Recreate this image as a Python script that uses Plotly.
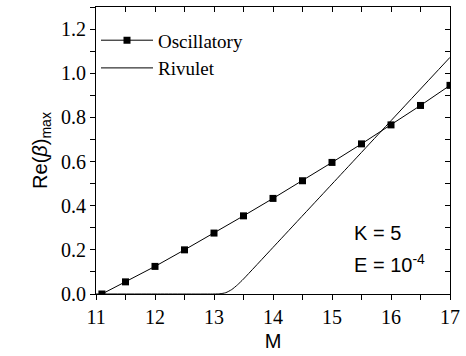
import plotly.graph_objects as go

# Data
osc_M = [11.1, 11.5, 12.0, 12.5, 13.0, 13.5, 14.0, 14.5, 15.0, 15.5, 16.0, 16.5, 17.0]
osc_re = [0.0, 0.055, 0.125, 0.200, 0.276, 0.354, 0.433, 0.513, 0.596, 0.680, 0.766, 0.854, 0.945]

riv_M = [11.0, 12.0, 13.0, 13.1, 13.2, 13.3, 13.4, 13.5, 14.0, 15.0, 16.0, 17.0]
riv_re = [0.0, 0.0, 0.0, 0.001, 0.006, 0.020, 0.042, 0.068, 0.211, 0.498, 0.785, 1.072]

x_range = [11, 17]
y_range = [0, 1.3]

serif = "Liberation Serif"
sans = "Liberation Sans"

fig = go.Figure()
fig.add_trace(go.Scatter(x=osc_M, y=osc_re, mode="lines+markers", name="Oscillatory",
                         line=dict(color="black", width=1),
                         marker=dict(symbol="square", size=7, color="black")))
fig.add_trace(go.Scatter(x=riv_M, y=riv_re, mode="lines", name="Rivulet",
                         line=dict(color="black", width=1, shape="spline", smoothing=0.6)))

# invisible traces so the helper axes (mirrored + minor ticks) are drawn
fig.add_trace(go.Scatter(x=[11], y=[0], xaxis="x2", yaxis="y2", showlegend=False,
                         mode="markers", marker=dict(opacity=0), hoverinfo="skip"))
fig.add_trace(go.Scatter(x=[11], y=[0], xaxis="x3", yaxis="y3", showlegend=False,
                         mode="markers", marker=dict(opacity=0), hoverinfo="skip"))

tickfont = dict(family=serif, size=20, color="black")

helper = dict(showticklabels=False, showgrid=False, zeroline=False, tickcolor="black", ticklen=5)

fig.update_layout(
    width=466, height=356,
    margin=dict(l=96, r=16, t=7, b=62),
    paper_bgcolor="white", plot_bgcolor="white",
    font=dict(family=serif, size=19, color="black"),
    showlegend=True,
    legend=dict(x=0.0, y=0.95, xanchor="left", yanchor="top",
                font=dict(family=serif, size=19, color="black"),
                bgcolor="rgba(0,0,0,0)", itemwidth=52, tracegroupgap=0),
    xaxis=dict(range=x_range, dtick=1, ticks="outside", ticklen=5, tickfont=tickfont,
               showline=True, linecolor="black", linewidth=1, showgrid=False, zeroline=False,
               tickcolor="black",
               title=dict(text="M", font=dict(family=sans, size=20, color="black"), standoff=6)),
    yaxis=dict(range=y_range, dtick=0.2, tickformat=".1f", ticks="outside", ticklen=5,
               tickfont=tickfont,
               showline=True, linecolor="black", linewidth=1, showgrid=False, zeroline=False,
               tickcolor="black",
               title=dict(text='Re(<i>β</i>)<sub>max</sub>',
                          font=dict(family=sans, size=20, color="black"), standoff=8)),
    # top/right mirrored axes with inward ticks (major + minor)
    xaxis2=dict(range=x_range, dtick=0.5, overlaying="x", side="top", ticks="inside",
                showline=True, linecolor="black", **helper),
    yaxis2=dict(range=y_range, dtick=0.1, overlaying="y", side="right", ticks="inside",
                showline=True, linecolor="black", **helper),
    # bottom/left minor ticks
    xaxis3=dict(range=x_range, dtick=0.5, overlaying="x", side="bottom", ticks="outside",
                showline=False, **helper),
    yaxis3=dict(range=y_range, dtick=0.1, overlaying="y", side="left", ticks="outside",
                showline=False, **helper),
)

fig.add_annotation(xref="paper", yref="paper", x=0.723, y=0.213, xanchor="left", yanchor="middle",
                   showarrow=False, text="K = 5",
                   font=dict(family=sans, size=20, color="black"))
fig.add_annotation(xref="paper", yref="paper", x=0.723, y=0.105, xanchor="left", yanchor="middle",
                   showarrow=False, text="E = 10<sup>-4</sup>",
                   font=dict(family=sans, size=20, color="black"))

fig.write_html("out.html")
